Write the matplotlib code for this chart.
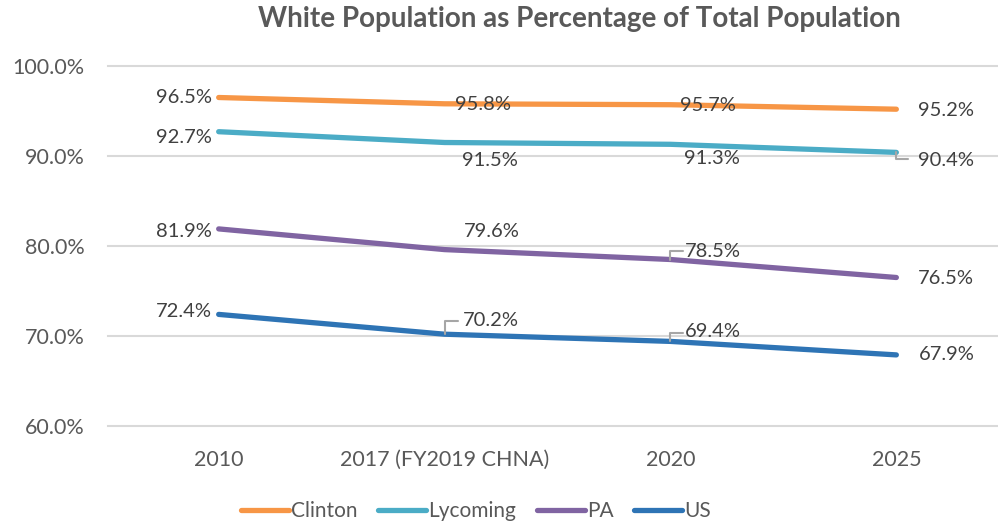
import matplotlib.pyplot as plt

plt.rcParams['font.family'] = ['Lato', 'DejaVu Sans']

# data
years = ['2010', '2017 (FY2019 CHNA)', '2020', '2025']
clinton = [96.5, 95.8, 95.7, 95.2]
lycoming = [92.7, 91.5, 91.3, 90.4]
pa = [81.9, 79.6, 78.5, 76.5]
us = [72.4, 70.2, 69.4, 67.9]

series = [
    ('Clinton', clinton, '#F79646'),
    ('Lycoming', lycoming, '#4BACC6'),
    ('PA', pa, '#8064A2'),
    ('US', us, '#2E74B5'),
]

# label offsets in pixels (dx, dy) per series and point
offsets = {
    'Clinton': [(-35, 0), (38, -1), (37, -1), (50, -1)],
    'Lycoming': [(-35, -6), (45, -18), (41, -14), (50, -8)],
    'PA': [(-35, -3), (47, 18), (42, 8), (50, -1)],
    'US': [(-35, 3), (46, 14), (42, 10), (50, 0)],
}
# elbow leader lines: end of the leader relative to the point, in pixels
leaders = {
    ('Lycoming', 3): (12, -7),
    ('PA', 2): (13, 9),
    ('US', 1): (13, 13),
    ('US', 2): (13, 8),
}

txt = '#595959'
fig = plt.figure(figsize=(9.98, 5.27), dpi=100)
ax = fig.add_axes([108 / 998, 1 - 426 / 527, 1 - 108 / 998, 360 / 527])

x = list(range(len(years)))
for name, vals, col in series:
    ax.plot(x, vals, color=col, lw=3.8, solid_capstyle='round', label=name, zorder=3)
    for i, v in enumerate(vals):
        dx, dy = offsets[name][i]
        ax.annotate(f'{v:.1f}%', xy=(i, v), xytext=(dx, dy), textcoords='offset pixels',
                    ha='center', va='center', fontsize=14.5, color='#404040', zorder=4)
        if (name, i) in leaders:
            lx, ly = leaders[(name, i)]
            ax.annotate('', xy=(i, v), xytext=(lx, ly), textcoords='offset pixels',
                        arrowprops=dict(arrowstyle='-', color='#A6A6A6', lw=1.5,
                                        shrinkA=0, shrinkB=0,
                                        connectionstyle='angle,angleA=0,angleB=90,rad=0'))

ax.set_xlim(-0.49, 3.45)
ax.set_ylim(60, 100)
ax.set_yticks([60, 70, 80, 90, 100])
ax.set_yticklabels([f'{t:.1f}%' for t in [60, 70, 80, 90, 100]])
ax.set_xticks(x)
ax.set_xticklabels(years)
ax.grid(axis='y', color='#D9D9D9', lw=1.5, clip_on=False)
ax.set_axisbelow(True)
for s in ax.spines.values():
    s.set_visible(False)
ax.tick_params(axis='y', length=0, pad=17, labelsize=15.5, labelcolor=txt)
ax.tick_params(axis='x', length=0, pad=17, labelsize=15.5, labelcolor=txt)

fig.text(579 / 998, 1 - 19 / 527, 'White Population as Percentage of Total Population',
         ha='center', va='center', fontsize=20, fontweight='bold', color=txt)

fig.legend(loc='center', bbox_to_anchor=(476 / 998, 1 - 511 / 527), ncol=4, frameon=False,
           fontsize=15, labelcolor=txt, handlelength=2.3, handletextpad=0.1,
           columnspacing=1.0)

fig.savefig('out.png', dpi=100)
